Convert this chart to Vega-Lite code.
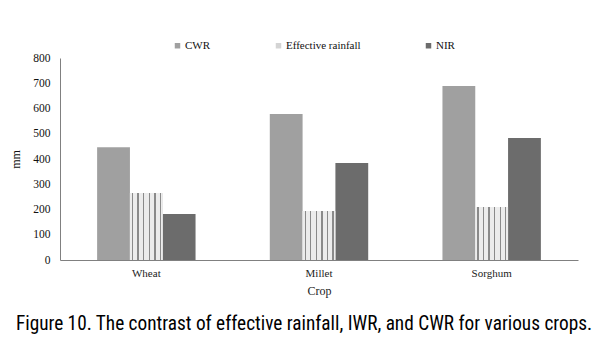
{
  "$schema": "https://vega.github.io/schema/vega-lite/v6.json",
  "width": 518,
  "height": 202,
  "autosize": {"type": "none"},
  "padding": {"left": 60, "top": 58, "right": 28, "bottom": 83},
  "background": "white",
  "title": {
    "text": "Figure 10. The contrast of effective rainfall, IWR, and CWR for various crops.",
    "orient": "bottom",
    "anchor": "middle",
    "dx": -15,
    "offset": 19,
    "font": "Liberation Sans Narrow, Roboto Condensed, Roboto",
    "fontSize": 19.3,
    "fontWeight": "normal",
    "color": "#000000"
  },
  "data": {
    "values": [
      {"crop": "Wheat", "series": "CWR", "mm": 447},
      {"crop": "Wheat", "series": "Effective rainfall", "mm": 265},
      {"crop": "Wheat", "series": "NIR", "mm": 182},
      {"crop": "Millet", "series": "CWR", "mm": 578},
      {"crop": "Millet", "series": "Effective rainfall", "mm": 194},
      {"crop": "Millet", "series": "NIR", "mm": 384},
      {"crop": "Sorghum", "series": "CWR", "mm": 689},
      {"crop": "Sorghum", "series": "Effective rainfall", "mm": 210},
      {"crop": "Sorghum", "series": "NIR", "mm": 483}
    ]
  },
  "encoding": {
    "x": {
      "field": "crop",
      "type": "nominal",
      "sort": ["Wheat", "Millet", "Sorghum"],
      "scale": {"paddingInner": 0.43, "paddingOuter": 0.215},
      "axis": {
        "title": "Crop",
        "labelAngle": 0,
        "ticks": false,
        "domainColor": "#808080",
        "labelFont": "Liberation Serif",
        "labelFontSize": 11,
        "labelColor": "#222222",
        "labelPadding": 7,
        "titleFont": "Liberation Serif",
        "titleFontSize": 12,
        "titleFontWeight": "normal",
        "titleColor": "#222222",
        "titlePadding": 7
      }
    },
    "xOffset": {
      "field": "series",
      "type": "nominal",
      "sort": ["CWR", "Effective rainfall", "NIR"],
      "scale": {"paddingInner": 0, "paddingOuter": 0}
    },
    "y": {
      "field": "mm",
      "type": "quantitative",
      "scale": {"domain": [0, 800]},
      "axis": {
        "title": "mm",
        "values": [0, 100, 200, 300, 400, 500, 600, 700, 800],
        "grid": false,
        "ticks": false,
        "domainColor": "#808080",
        "labelFont": "Liberation Serif",
        "labelFontSize": 11.5,
        "labelColor": "#111111",
        "labelPadding": 10,
        "titleFont": "Liberation Serif",
        "titleFontSize": 12,
        "titleFontWeight": "normal",
        "titleColor": "#111111",
        "titlePadding": 10
      }
    }
  },
  "layer": [
    {
      "mark": {"type": "bar"},
      "encoding": {
        "color": {
          "field": "series",
          "type": "nominal",
          "sort": ["CWR", "Effective rainfall", "NIR"],
          "scale": {"range": ["#a0a0a0", "#d4d4d4", "#6c6c6c"]},
          "legend": {
            "title": null,
            "orient": "none",
            "direction": "horizontal",
            "legendX": 112,
            "legendY": -18,
            "symbolType": "square",
            "symbolSize": 30,
            "symbolStrokeWidth": 0,
            "columnPadding": 62,
            "labelFont": "Liberation Serif",
            "labelFontSize": 11,
            "labelColor": "#111111",
            "labelOffset": 2
          }
        }
      }
    },
    {
      "transform": [{"filter": "datum.series === 'Effective rainfall'"}],
      "mark": {
        "type": "bar",
        "fill": {
          "gradient": "linear",
          "x1": 0, "y1": 0, "x2": 1, "y2": 0,
          "stops": [
            {"offset": 0, "color": "#ececec"},
            {"offset": 0.06, "color": "#ececec"},
            {"offset": 0.06, "color": "#8a8a8a"},
            {"offset": 0.1, "color": "#8a8a8a"},
            {"offset": 0.1, "color": "#ececec"},
            {"offset": 0.23, "color": "#ececec"},
            {"offset": 0.23, "color": "#8a8a8a"},
            {"offset": 0.27, "color": "#8a8a8a"},
            {"offset": 0.27, "color": "#ececec"},
            {"offset": 0.4, "color": "#ececec"},
            {"offset": 0.4, "color": "#8a8a8a"},
            {"offset": 0.44, "color": "#8a8a8a"},
            {"offset": 0.44, "color": "#ececec"},
            {"offset": 0.57, "color": "#ececec"},
            {"offset": 0.57, "color": "#8a8a8a"},
            {"offset": 0.61, "color": "#8a8a8a"},
            {"offset": 0.61, "color": "#ececec"},
            {"offset": 0.74, "color": "#ececec"},
            {"offset": 0.74, "color": "#8a8a8a"},
            {"offset": 0.78, "color": "#8a8a8a"},
            {"offset": 0.78, "color": "#ececec"},
            {"offset": 0.91, "color": "#ececec"},
            {"offset": 0.91, "color": "#8a8a8a"},
            {"offset": 0.95, "color": "#8a8a8a"},
            {"offset": 0.95, "color": "#ececec"},
            {"offset": 1, "color": "#ececec"}
          ]
        }
      }
    }
  ],
  "config": {"view": {"stroke": null}}
}
